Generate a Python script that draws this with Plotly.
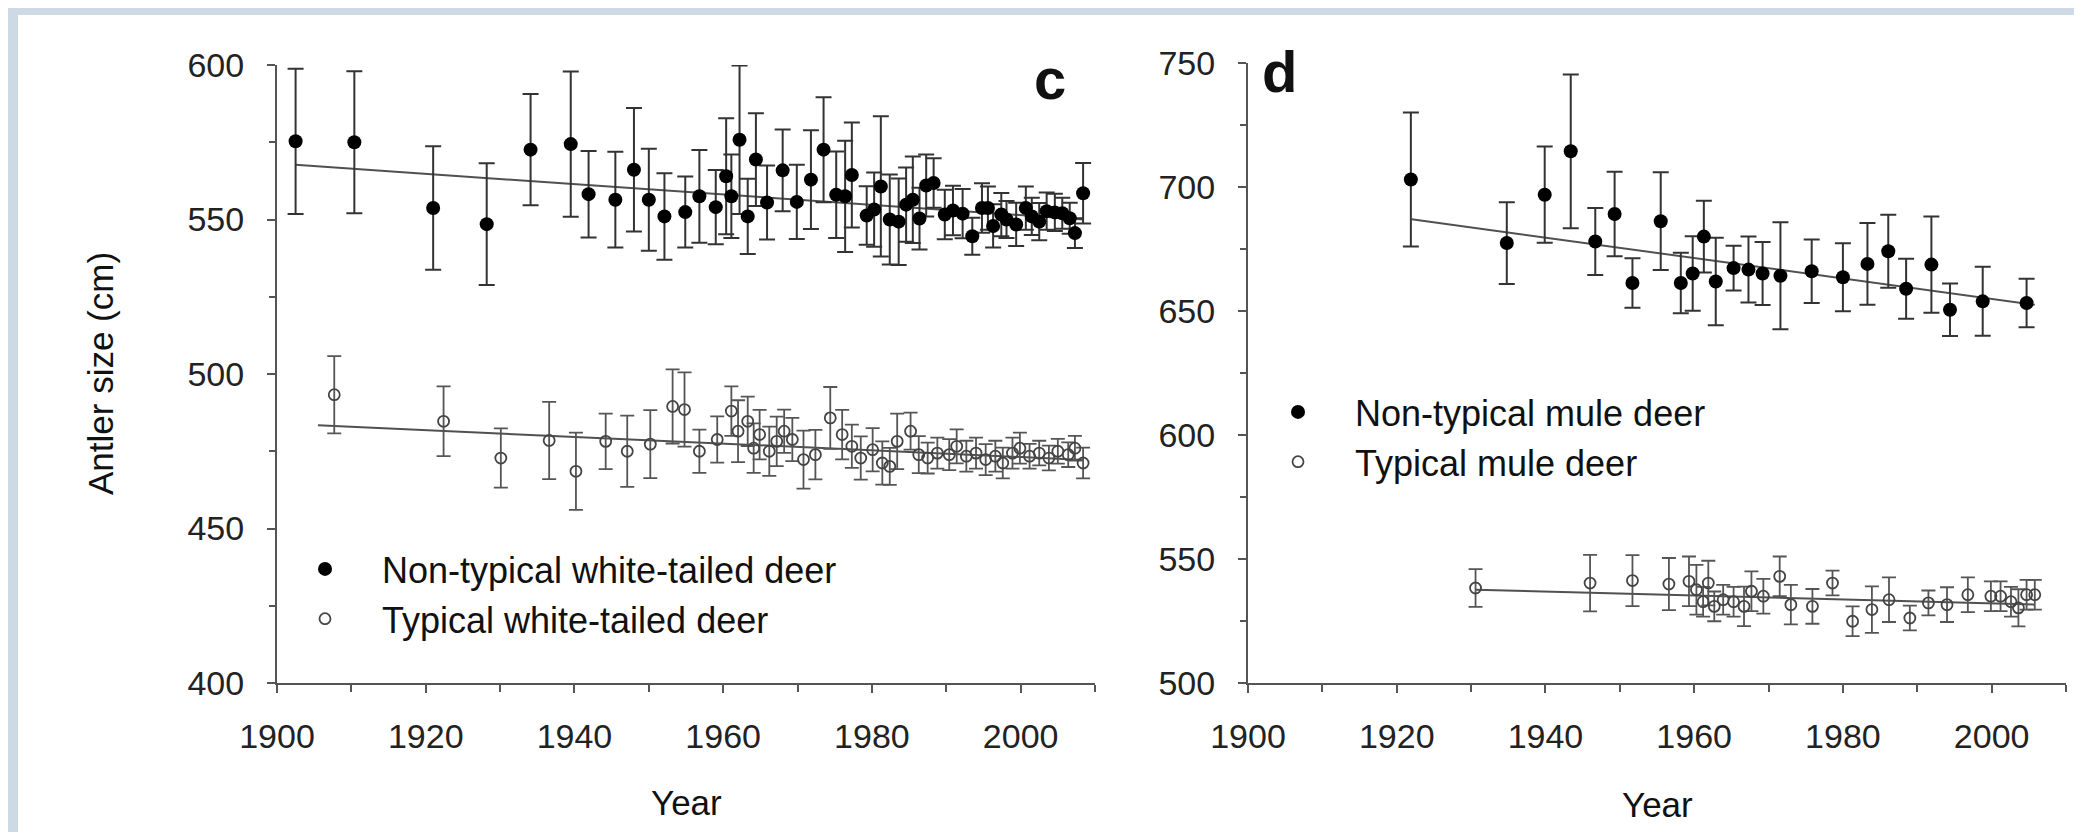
import plotly.graph_objects as go

# ---------------- Panel c : white-tailed deer ----------------
c_nt_year = [1902.5, 1910.4, 1921.0, 1928.2, 1934.1, 1939.5, 1941.9, 1945.5, 1948.0, 1950.0,
             1952.1, 1954.9, 1956.8, 1959.0, 1960.4, 1961.1, 1962.2, 1963.3, 1964.4, 1965.9,
             1968.0, 1969.9, 1971.8, 1973.5, 1975.2, 1976.4, 1977.3, 1979.3, 1980.3, 1981.2,
             1982.4, 1983.6, 1984.6, 1985.5, 1986.4, 1987.3, 1988.3, 1989.8, 1990.9, 1992.2,
             1993.5, 1994.8, 1995.6, 1996.3, 1997.4, 1998.1, 1999.4, 2000.7, 2001.5, 2002.5,
             2003.5, 2004.6, 2005.6, 2006.6, 2007.3, 2008.4]
c_nt_val = [575.3, 575.0, 553.7, 548.5, 572.6, 574.4, 558.2, 556.4, 566.1, 556.4,
            551.0, 552.4, 557.5, 554.0, 564.0, 557.5, 575.8, 551.0, 569.4, 555.5,
            565.9, 555.7, 562.9, 572.6, 558.0, 557.5, 564.4, 551.3, 553.2, 560.7,
            550.0, 549.3, 554.8, 556.4, 550.3, 561.0, 561.8, 551.6, 552.9, 551.9,
            544.6, 553.7, 553.7, 547.9, 551.6, 550.0, 548.4, 553.7, 551.0, 549.3,
            552.7, 552.3, 552.0, 550.4, 545.6, 558.5]
c_nt_err = [23.5, 23.0, 20.0, 19.7, 18.0, 23.5, 14.0, 15.5, 20.0, 16.5,
            14.0, 11.5, 15.0, 12.0, 18.8, 13.5, 24.0, 12.2, 15.0, 12.0,
            13.2, 12.0, 16.0, 17.0, 14.0, 18.0, 17.0, 9.5, 12.0, 22.7,
            14.6, 14.0, 12.0, 14.0, 10.0, 10.0, 8.0, 8.0, 8.0, 8.0,
            6.0, 8.0, 7.0, 7.0, 7.0, 6.0, 7.0, 7.0, 6.0, 6.0,
            6.0, 6.0, 5.0, 5.0, 4.8, 9.8]

c_t_year = [1907.7, 1922.4, 1930.1, 1936.6, 1940.2, 1944.2, 1947.1, 1950.2, 1953.2, 1954.8,
            1956.8, 1959.2, 1961.1, 1962.0, 1963.3, 1964.1, 1964.9, 1966.2, 1967.2, 1968.2,
            1969.3, 1970.8, 1972.4, 1974.4, 1976.0, 1977.3, 1978.5, 1980.1, 1981.4, 1982.4,
            1983.4, 1985.2, 1986.3, 1987.5, 1988.8, 1990.4, 1991.4, 1992.7, 1994.0, 1995.3,
            1996.6, 1997.6, 1998.9, 1999.9, 2001.2, 2002.5, 2003.8, 2005.0, 2006.4, 2007.3,
            2008.4]
c_t_val = [493.3, 484.7, 472.8, 478.5, 468.5, 478.2, 475.0, 477.3, 489.5, 488.5,
           475.0, 478.8, 488.0, 481.5, 484.7, 476.0, 480.4, 475.0, 478.2, 481.5,
           478.8, 472.3, 473.9, 485.8, 480.4, 476.6, 472.8, 475.5, 471.2, 470.1,
           478.2, 481.5, 473.9, 472.8, 474.4, 473.9, 476.6, 473.4, 474.4, 472.3,
           473.4, 471.2, 474.4, 476.0, 473.4, 474.4, 472.8, 475.0, 473.9, 476.0,
           471.2]
c_t_err = [12.5, 11.3, 9.6, 12.5, 12.5, 9.0, 11.5, 11.0, 12.0, 12.0,
           7.0, 7.5, 8.0, 10.0, 8.0, 8.0, 8.0, 8.0, 8.0, 7.0,
           7.0, 9.4, 8.0, 10.0, 8.0, 7.0, 7.0, 7.0, 7.0, 6.0,
           9.0, 6.0, 6.0, 5.0, 5.0, 5.0, 5.5, 5.0, 5.0, 5.0,
           5.0, 5.0, 5.0, 5.0, 4.0, 4.0, 4.0, 4.0, 4.0, 4.0,
           5.0]

c_nt_trend_year = [1902.5, 2008.5]
c_nt_trend_val = [567.7, 550.0]
c_t_trend_year = [1905.5, 2008.5]
c_t_trend_val = [483.4, 472.2]

# ---------------- Panel d : mule deer ----------------
d_nt_year = [1921.9, 1934.8, 1939.9, 1943.4, 1946.7, 1949.3, 1951.7, 1955.5, 1958.2, 1959.8,
             1961.3, 1962.9, 1965.3, 1967.3, 1969.2, 1971.6, 1975.8, 1980.0, 1983.3, 1986.1,
             1988.5, 1991.9, 1994.4, 1998.8, 2004.7]
d_nt_val = [703.0, 677.4, 696.9, 714.4, 678.0, 689.1, 661.3, 686.2, 661.3, 665.1,
            680.0, 661.9, 667.3, 666.7, 665.1, 664.2, 666.0, 663.6, 669.0, 674.1,
            659.0, 668.7, 650.5, 653.9, 653.2]
d_nt_err = [27.0, 16.5, 19.4, 31.0, 13.5, 17.0, 10.0, 19.7, 12.2, 15.0,
            14.5, 17.6, 9.0, 13.3, 12.7, 21.6, 12.8, 13.7, 16.5, 14.7,
            12.1, 19.4, 10.6, 13.9, 9.8]

d_t_year = [1930.6, 1946.0, 1951.7, 1956.6, 1959.3, 1960.3, 1961.2, 1961.9, 1962.7, 1963.9,
            1965.3, 1966.7, 1967.7, 1969.3, 1971.5, 1973.0, 1975.9, 1978.6, 1981.3, 1983.9,
            1986.2, 1989.0, 1991.5, 1994.0, 1996.8, 1999.9, 2001.2, 2002.6, 2003.6, 2004.7,
            2005.8]
d_t_val = [538.3, 540.3, 541.3, 539.9, 541.0, 537.6, 532.8, 540.3, 530.9, 533.6,
           532.8, 530.9, 537.0, 535.0, 543.0, 531.6, 530.9, 540.3, 524.9, 529.6,
           533.6, 526.2, 532.3, 531.6, 535.6, 535.0, 535.0, 532.8, 530.3, 535.6,
           535.6]
d_t_err = [7.6, 11.4, 10.3, 10.5, 10.0, 10.0, 6.0, 9.0, 6.0, 6.0,
           6.0, 8.0, 8.0, 7.0, 8.0, 8.0, 7.0, 5.0, 6.0, 9.4,
           9.0, 5.0, 5.0, 7.0, 7.0, 6.0, 6.0, 6.0, 7.5, 6.0,
           6.0]

d_nt_trend_year = [1922.0, 2005.8]
d_nt_trend_val = [687.0, 652.5]
d_t_trend_year = [1930.6, 2005.8]
d_t_trend_val = [537.6, 531.6]

FONT = "Liberation Sans, Arial, Helvetica, sans-serif"
W, H = 2082, 832
AX = "#555555"

fig = go.Figure()

def trend(xs, ys, xa, ya):
    fig.add_trace(go.Scatter(x=xs, y=ys, mode="lines", xaxis=xa, yaxis=ya,
                             line=dict(color="#505050", width=2), showlegend=False,
                             hoverinfo="skip"))

def filled(xs, ys, es, name, xa, ya, leg):
    fig.add_trace(go.Scatter(x=xs, y=ys, mode="markers", name=name, xaxis=xa, yaxis=ya,
                             legend=leg,
                             marker=dict(symbol="circle", size=14, color="#000000"),
                             error_y=dict(type="data", array=es, symmetric=True,
                                          color="#333333", thickness=2, width=8)))

def hollow(xs, ys, es, name, xa, ya, leg):
    fig.add_trace(go.Scatter(x=xs, y=ys, mode="markers", name=name, xaxis=xa, yaxis=ya,
                             legend=leg,
                             marker=dict(symbol="circle-open", size=11, color="#444444",
                                         line=dict(width=1.8, color="#444444")),
                             error_y=dict(type="data", array=es, symmetric=True,
                                          color="#555555", thickness=1.8, width=7)))

trend(c_nt_trend_year, c_nt_trend_val, "x", "y")
trend(c_t_trend_year, c_t_trend_val, "x", "y")
trend(d_nt_trend_year, d_nt_trend_val, "x2", "y2")
trend(d_t_trend_year, d_t_trend_val, "x2", "y2")

filled(c_nt_year, c_nt_val, c_nt_err, "Non-typical white-tailed deer", "x", "y", "legend")
hollow(c_t_year, c_t_val, c_t_err, "Typical white-tailed deer", "x", "y", "legend")
filled(d_nt_year, d_nt_val, d_nt_err, "Non-typical mule deer", "x2", "y2", "legend2")
hollow(d_t_year, d_t_val, d_t_err, "Typical mule deer", "x2", "y2", "legend2")

def xaxis_style(domain, anchor):
    return dict(domain=domain, anchor=anchor, range=[1900, 2010], dtick=20, tick0=1900,
                showline=True, linecolor=AX, linewidth=2, mirror=False, automargin=False,
                ticks="outside", ticklen=8, tickwidth=2, tickcolor=AX,
                minor=dict(dtick=10, ticks="outside", ticklen=7, tickwidth=2, tickcolor=AX),
                showgrid=False, zeroline=False, ticklabelstandoff=14,
                tickfont=dict(family=FONT, size=34, color="#222222"))

def yaxis_style(domain, anchor, rng, dtick):
    return dict(domain=domain, anchor=anchor, range=rng, dtick=dtick, automargin=False,
                showline=True, linecolor=AX, linewidth=2,
                ticks="outside", ticklen=8, tickwidth=2, tickcolor=AX,
                minor=dict(dtick=dtick / 2, ticks="outside", ticklen=6, tickwidth=2, tickcolor=AX),
                showgrid=False, zeroline=False, ticklabelstandoff=16,
                tickfont=dict(family=FONT, size=34, color="#222222"))

ybot = 1 - 675 / H
fig.update_layout(
    template="none",
    width=W, height=H, margin=dict(l=0, r=0, t=0, b=0, pad=0, autoexpand=False),
    paper_bgcolor="white", plot_bgcolor="white",
    font=dict(family=FONT, size=34, color="#222222"),
    xaxis=xaxis_style([269 / W, 1087 / W], "y"),
    yaxis=yaxis_style([ybot, 1 - 57 / H], "x", [400, 600], 50),
    xaxis2=xaxis_style([1240 / W, 2058 / W], "y2"),
    yaxis2=yaxis_style([ybot, 1 - 55 / H], "x2", [500, 750], 50),
    legend=dict(x=260 / W, y=1 - 531 / H, xanchor="left", yanchor="top",
                bgcolor="rgba(0,0,0,0)", font=dict(family=FONT, size=36, color="#111111"),
                itemwidth=104, tracegroupgap=0),
    legend2=dict(x=1233 / W, y=1 - 374 / H, xanchor="left", yanchor="top",
                 bgcolor="rgba(0,0,0,0)", font=dict(family=FONT, size=36, color="#111111"),
                 itemwidth=104, tracegroupgap=0),
    showlegend=True,
)

# light blue frame strips (top and left)
fig.add_shape(type="rect", xref="paper", yref="paper", x0=0, x1=1, y0=1 - 7 / H, y1=1,
              fillcolor="#cdd9e5", line=dict(width=0), layer="above")
fig.add_shape(type="rect", xref="paper", yref="paper", x0=0, x1=10 / W, y0=0, y1=1,
              fillcolor="#cdd9e5", line=dict(width=0), layer="above")

ann = [
    dict(text="Antler size (cm)", x=92 / W, y=1 - 366 / H, textangle=-90, size=35),
    dict(text="Year", x=678 / W, y=1 - 794 / H, textangle=0, size=35),
    dict(text="Year", x=1649 / W, y=1 - 796 / H, textangle=0, size=35),
    dict(text="<b>c</b>", x=1042 / W, y=1 - 71 / H, textangle=0, size=58),
    dict(text="<b>d</b>", x=1271 / W, y=1 - 64 / H, textangle=0, size=58),
]
for a in ann:
    fig.add_annotation(text=a["text"], x=a["x"], y=a["y"], xref="paper", yref="paper",
                       xanchor="center", yanchor="middle", showarrow=False,
                       textangle=a["textangle"],
                       font=dict(family=FONT, size=a["size"], color="#111111"))

fig.write_html("out.html")
